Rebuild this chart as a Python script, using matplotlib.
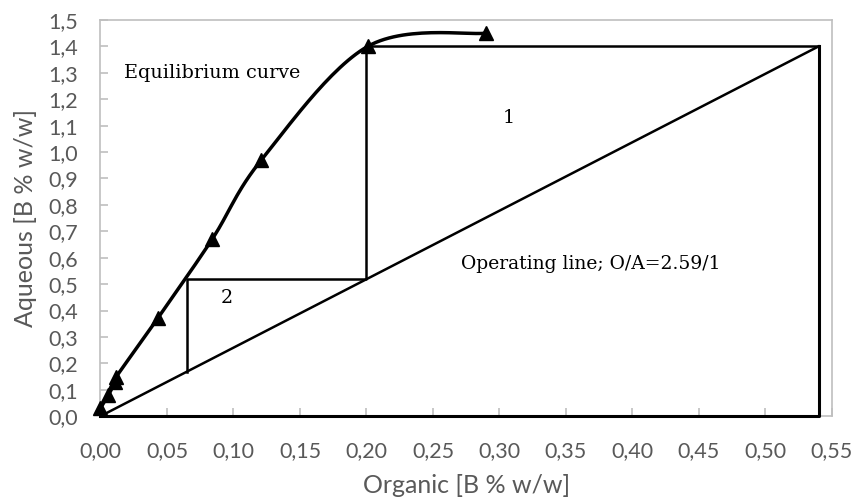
import numpy as np
import matplotlib.pyplot as plt
from matplotlib.ticker import FuncFormatter, MultipleLocator

# equilibrium data (organic, aqueous) in B % w/w
eq_org = [0.000, 0.006, 0.011, 0.012, 0.043, 0.084, 0.121, 0.201, 0.290]
eq_aq = [0.03, 0.08, 0.13, 0.15, 0.37, 0.67, 0.97, 1.40, 1.45]

# operating line end points
op_org = [0.0, 0.54]
op_aq = [0.0, 1.40]

# McCabe-Thiele steps
step_org = [0.54, 0.20, 0.20, 0.065, 0.065]
step_aq = [1.40, 1.40, 0.519, 0.519, 0.168]

GRAY = '#595959'
AXIS_GRAY = '#bfbfbf'


def smooth(x, y, n=30):
    # Catmull-Rom spline, like Excel's smoothed line
    x = np.asarray(x, float)
    y = np.asarray(y, float)
    px = np.concatenate([[x[0]], x, [x[-1]]])
    py = np.concatenate([[y[0]], y, [y[-1]]])
    xs, ys = [], []
    t = np.linspace(0, 1, n)
    for i in range(1, len(px) - 2):
        for p, out in ((px, xs), (py, ys)):
            p0, p1, p2, p3 = p[i - 1], p[i], p[i + 1], p[i + 2]
            out.extend(0.5 * (2 * p1 + (-p0 + p2) * t
                              + (2 * p0 - 5 * p1 + 4 * p2 - p3) * t ** 2
                              + (-p0 + 3 * p1 - 3 * p2 + p3) * t ** 3))
    return xs, ys


fig = plt.figure(figsize=(8.55, 4.99), dpi=100)
ax = fig.add_axes([0.1175, 0.166, 0.8555, 0.794])

sx, sy = smooth(eq_org, eq_aq)
ax.plot(sx, sy, color='black', lw=2.5, zorder=3, clip_on=False)
ax.plot(eq_org, eq_aq, ls='none', marker='^', ms=10.5, color='black', zorder=4, clip_on=False)

ax.plot(op_org, op_aq, color='black', lw=1.8)
# box: bottom, right side
ax.plot([0.0, 0.54, 0.54], [0.0, 0.0, 1.40], color='black', lw=2.2, clip_on=False, zorder=3)
ax.plot(step_org, step_aq, color='black', lw=1.8)

serif = 'DejaVu Serif'
ax.text(0.018, 1.30, 'Equilibrium curve', fontsize=13.8, family=serif, va='center')
ax.text(0.307, 1.13, '1', fontsize=13.8, family=serif, ha='center', va='center')
ax.text(0.095, 0.447, '2', fontsize=13.8, family=serif, ha='center', va='center')
ax.text(0.271, 0.575, 'Operating line; O/A=2.59/1', fontsize=13.5, family=serif, va='center')

ax.set_xlim(0, 0.55)
ax.set_ylim(0, 1.5)
ax.xaxis.set_major_locator(MultipleLocator(0.05))
ax.yaxis.set_major_locator(MultipleLocator(0.1))
ax.xaxis.set_major_formatter(FuncFormatter(lambda v, p: f'{v:.2f}'.replace('.', ',')))
ax.yaxis.set_major_formatter(FuncFormatter(lambda v, p: f'{v:.1f}'.replace('.', ',')))

for s in ax.spines.values():
    s.set_color(AXIS_GRAY)
    s.set_linewidth(1.2)
ax.tick_params(direction='in', length=6, color=AXIS_GRAY, width=1.2,
               labelcolor=GRAY, labelsize=15.5)
ax.tick_params(axis='x', pad=18)
ax.tick_params(axis='y', pad=16)
for lbl in ax.get_xticklabels() + ax.get_yticklabels():
    lbl.set_family('Lato')

ax.set_xlabel('Organic [B % w/w]', fontsize=18, color=GRAY, family='Lato', labelpad=9)
ax.set_ylabel('Aqueous [B % w/w]', fontsize=18, color=GRAY, family='Lato', labelpad=8)

fig.savefig('out.png', dpi=100)
